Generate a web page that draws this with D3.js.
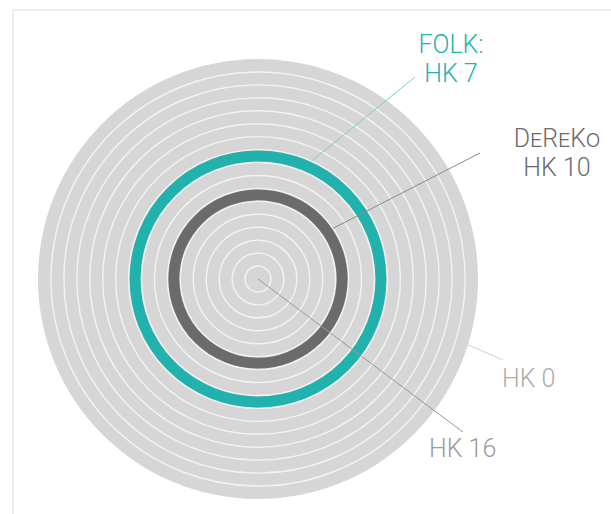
<!DOCTYPE html>
<html>
<head>
  <script src="https://d3js.org/d3.v7.min.js"></script>
  <style>
    html, body { margin: 0; padding: 0; background: #fff; }
    svg { display: block; }
    .lbl { font-family: Roboto, "Liberation Sans", Arial, sans-serif; font-weight: 300; font-size: 25px; }
  </style>
</head>
<body>
  <script>
    // frequency classes, HK 0 (outermost) .. HK 16 (centre)
    const classes = d3.range(0, 17);
    // corpora and the class they sit in
    const corpora = ["FOLK", "DeReKo"];
    const corpusClass = [7, 10];
    const corpusColor = ["#22b2ad", "#6b6b6b"];
    const labelLines = [["FOLK:", "HK 7"], ["DeReKo", "HK 10"]];

    const width = 611, height = 514;
    const cx = 258, cy = 279, outerR = 220;

    const svg = d3.select("body").append("svg")
      .attr("width", width)
      .attr("height", height);

    // faint page frame
    svg.append("path")
      .attr("d", `M13,${height} L13,10 L${width},10`)
      .attr("fill", "none")
      .attr("stroke", "#ededed")
      .attr("stroke-width", 2);

    // band boundary k -> radius
    const r = d3.scaleLinear()
      .domain([0, classes.length])
      .range([outerR, 0]);
    const bandW = r(0) - r(1);

    const g = svg.append("g").attr("transform", `translate(${cx},${cy})`);

    g.append("circle")
      .attr("r", r(0))
      .attr("fill", "#d6d6d6");

    g.selectAll("circle.sep")
      .data(classes.slice(1))
      .enter()
      .append("circle")
      .attr("class", "sep")
      .attr("r", d => r(d))
      .attr("fill", "none")
      .attr("stroke", "#f3f3f3")
      .attr("stroke-width", 1.4);

    g.selectAll("circle.hl")
      .data(corpora)
      .enter()
      .append("circle")
      .attr("class", "hl")
      .attr("r", (d, i) => r(corpusClass[i] + 0.5))
      .attr("fill", "none")
      .attr("stroke", (d, i) => corpusColor[i])
      .attr("stroke-width", bandW - 2);

    // leader lines: start angle on ring, end near label
    const polar = (rad, deg) => [rad * Math.cos(deg * Math.PI / 180), rad * Math.sin(deg * Math.PI / 180)];

    const leaders = [
      {from: polar(r(corpusClass[0] + 0.5) + bandW / 2, -65.6), to: [415 - cx, 77 - cy], color: "#7ccfcb"},
      {from: polar(r(corpusClass[1] + 0.5) + bandW / 2, -34), to: [480 - cx, 153 - cy], color: "#8a8a8a"},
      {from: polar(r(0), 17.4), to: [503 - cx, 360 - cy], color: "#cfcfcf"},
      {from: [0, 0], to: [463 - cx, 432 - cy], color: "#9a9a9a"}
    ];

    g.selectAll("line.lead")
      .data(leaders)
      .enter()
      .append("line")
      .attr("class", "lead")
      .attr("x1", d => d.from[0]).attr("y1", d => d.from[1])
      .attr("x2", d => d.to[0]).attr("y2", d => d.to[1])
      .attr("stroke", d => d.color)
      .attr("stroke-width", 1);

    // corpus labels
    const labelPos = [[451, 53, 82], [557, 147, 176]];
    labelLines.forEach((lines, i) => {
      const t = svg.append("text")
        .attr("class", "lbl")
        .attr("text-anchor", "middle")
        .attr("fill", corpusColor[i]);
      lines.forEach((s, j) => {
        t.append("tspan")
          .attr("x", labelPos[i][0])
          .attr("y", labelPos[i][1 + j])
          .style("font-variant", (i === 1 && j === 0) ? "small-caps" : "normal")
          .text(s);
      });
    });

    // ends of the scale
    svg.append("text").attr("class", "lbl")
      .attr("x", 502).attr("y", 387)
      .attr("fill", "#ababab")
      .text("HK " + classes[0]);

    svg.append("text").attr("class", "lbl")
      .attr("x", 429).attr("y", 457)
      .attr("fill", "#9c9c9c")
      .text("HK " + classes[classes.length - 1]);
  </script>
</body>
</html>
